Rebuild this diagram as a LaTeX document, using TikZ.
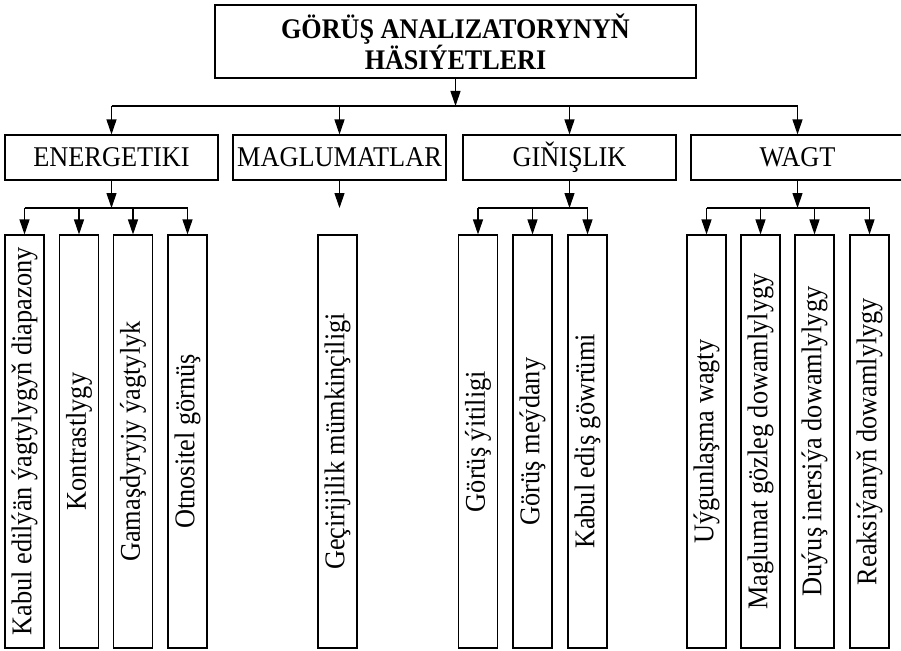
\documentclass[tikz,border=0pt]{standalone}
\usepackage{fontspec}
\usepackage{graphicx}
\setmainfont[FakeStretch=0.92]{Liberation Serif}
\usetikzlibrary{arrows.meta}

\begin{document}
\begin{tikzpicture}[x=1pt, y=-1pt, >={Triangle[length=15pt, width=10pt]}, line width=1.1pt,
    box/.style={draw, line width=1.1pt, inner sep=0pt, font=\fontsize{28.6}{28}\selectfont},
    group/.style={box, minimum width=213pt, minimum height=45pt},
    leaf/.style={box, minimum width=39pt, minimum height=413pt}]
    \useasboundingbox (0,0) rectangle (901,650);

    % Title
    \node[box, minimum width=481pt, minimum height=73pt, align=center,
          font=\fontsize{28.4}{28}\selectfont\bfseries] (title) at (455.5,41.5)
          {GÖRÜŞ ANALIZATORYNYŇ\\HÄSIÝETLERI};

    % Groups
    \foreach \n/\x/\txt in {energ/111.5/ENERGETIKI, magl/339.5/MAGLUMATLAR,
                            gin/569.5/GIŇIŞLIK, wagt/797.5/WAGT} {
        \node[group] (\n) at (\x,157.5) {\txt};
    }

    % Top bus
    \coordinate (bus) at (0,106);
    \draw[->] (title.south) -- (title.south |- bus);
    \draw (energ.north |- bus) -- (wagt.north |- bus);
    \foreach \n in {energ, magl, gin, wagt} {
        \draw[->] (\n.north |- bus) -- (\n.north);
    }

    % Leaves
    \foreach \i/\x/\txt in {1/24.5/Kabul edilýän ýagtylygyň diapazony, 2/79/Kontrastlygy,
                            3/133/Gamaşdyryjy ýagtylyk, 4/187.5/Otnositel görnüş} {
        \node[leaf] (e\i) at (\x,441.5) {\rotatebox{90}{\txt}};
    }
    \node[leaf] (m1) at (337.5,441.5) {\rotatebox{90}{Geçirijilik mümkinçiligi}};
    \foreach \i/\x/\txt in {1/478/Görüş ýitiligi, 2/532.5/Görüş meýdany,
                            3/587.5/Kabul ediş göwrümi} {
        \node[leaf] (g\i) at (\x,441.5) {\rotatebox{90}{\txt}};
    }
    \foreach \i/\x/\txt in {1/706.5/Uýgunlaşma wagty, 2/760.5/Maglumat gözleg dowamlylygy,
                            3/814.5/Duýuş inersiýa dowamlylygy, 4/869.5/Reaksiýanyň dowamlylygy} {
        \node[leaf] (w\i) at (\x,441.5) {\rotatebox{90}{\txt}};
    }

    % Sub buses
    \coordinate (sub) at (0,208);
    \draw[->] (energ.south) -- (energ.south |- sub);
    \draw (e1.north |- sub) -- (e4.north |- sub);
    \foreach \i in {1,...,4} {
        \draw[->] (e\i.north |- sub) -- (e\i.north);
    }
    \draw[->] (magl.south) -- (magl.south |- sub);
    \draw[->] (gin.south) -- (gin.south |- sub);
    \draw (g1.north |- sub) -- (g3.north |- sub);
    \foreach \i in {1,...,3} {
        \draw[->] (g\i.north |- sub) -- (g\i.north);
    }
    \draw[->] (wagt.south) -- (wagt.south |- sub);
    \draw (w1.north |- sub) -- (w4.north |- sub);
    \foreach \i in {1,...,4} {
        \draw[->] (w\i.north |- sub) -- (w\i.north);
    }
\end{tikzpicture}
\end{document}
